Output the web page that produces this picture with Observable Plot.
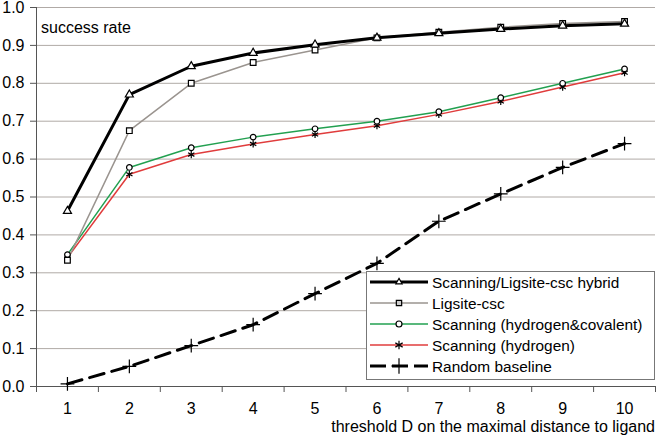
<!DOCTYPE html>
<html>
<head>
<meta charset="utf-8">
<script src="https://cdn.jsdelivr.net/npm/d3@7"></script>
<script src="https://cdn.jsdelivr.net/npm/@observablehq/plot@0.6"></script>
<style>
html,body{margin:0;padding:0;background:#fff;}
#chart{position:relative;width:661px;height:437px;}
</style>
</head>
<body>
<div id="chart"></div>
<script>
const thresholds = [1,2,3,4,5,6,7,8,9,10];
const hybrid    = [0.463,0.770,0.845,0.880,0.902,0.920,0.932,0.943,0.952,0.957];
const ligsite   = [0.333,0.675,0.800,0.855,0.888,0.920,0.935,0.948,0.958,0.963];
const scanHC    = [0.348,0.578,0.630,0.658,0.680,0.700,0.725,0.762,0.800,0.838];
const scanH     = [0.340,0.560,0.612,0.640,0.665,0.688,0.718,0.752,0.790,0.828];
const randomB   = [0.007,0.053,0.108,0.163,0.245,0.325,0.436,0.508,0.578,0.641];
const seriesNames = ["Scanning/Ligsite-csc hybrid","Ligsite-csc","Scanning (hydrogen&covalent)","Scanning (hydrogen)","Random baseline"];
const yTicks = [0,0.1,0.2,0.3,0.4,0.5,0.6,0.7,0.8,0.9,1.0];
const xTitle = "threshold D on the maximal distance to ligand";
const yTitle = "success rate";

const styles = [
  {stroke:"#000", width:3, dash:null, symbol:"triangle", fill:"#fff", r:3},
  {stroke:"#9a948f", width:1.5, dash:null, symbol:"square", fill:"#fff", r:3.2},
  {stroke:"#22a050", width:1.5, dash:null, symbol:"circle", fill:"#fff", r:2.8},
  {stroke:"#e03c3c", width:1.5, dash:null, symbol:"asterisk", fill:"none", r:3.4},
  {stroke:"#000", width:3, dash:"15,8", symbol:"plus", fill:"none", r:4.5}
];
const valuesList = [hybrid, ligsite, scanHC, scanH, randomB];
const rows = valuesList.map(vals => thresholds.map((t,i)=>({x:t,y:vals[i]})));

const marks = [
  Plot.gridY(yTicks,{stroke:"#b0aaa6",strokeOpacity:1,strokeWidth:1}),
  Plot.axisY(yTicks,{tickSize:6,tickFormat:d3.format(".1f"),fontSize:16,tickPadding:6,stroke:"#555",label:null,color:"#000"}),
  Plot.ruleX([0.5],{stroke:"#555"}),
  Plot.ruleY([0],{stroke:"#555"}),
  Plot.axisX(d3.range(0.5,11,1),{tickSize:6,tickFormat:()=>"",stroke:"#555",label:null}),
  Plot.axisX(thresholds,{tickSize:0,tickPadding:16,fontSize:16,label:null,color:"#000"}),
];
[4,3,2,1,0].forEach(k=>{
  const s = styles[k];
  marks.push(Plot.line(rows[k],{x:"x",y:"y",stroke:s.stroke,strokeWidth:s.width,strokeDasharray:s.dash}));
});
[4,3,2,1,0].forEach(k=>{
  const s = styles[k];
  marks.push(Plot.dot(rows[k],{x:"x",y:"y",symbol:()=>s.symbol,r:s.r,fill:s.fill,stroke:"#000",strokeWidth:1.2}));
});

const plot = Plot.plot({
  width:661, height:437,
  marginLeft:36, marginRight:6, marginTop:7, marginBottom:51,
  style:{fontFamily:"'Liberation Sans', Arial, sans-serif", background:"#fff"},
  x:{domain:[0.5,10.5]},
  y:{domain:[0,1]},
  symbol:{type:"identity"},
  marks
});
document.getElementById("chart").appendChild(plot);

const svg = d3.select(plot);
const ff = "'Liberation Sans', Arial, sans-serif";
svg.append("text").attr("x",41).attr("y",33).attr("text-anchor","start").attr("font-size",16).attr("font-family",ff).attr("fill","#000").text(yTitle);
svg.append("text").attr("x",655).attr("y",432).attr("text-anchor","end").attr("font-size",16).attr("font-family",ff).attr("fill","#000").text(xTitle);

const lg = svg.append("g");
lg.append("rect").attr("x",366.5).attr("y",271.5).attr("width",288).attr("height",108).attr("fill","#fff").attr("stroke","#777").attr("stroke-width",1);
const rowY = [282,303,324,345,366];
const symPaths = {
  triangle: d3.symbol(d3.symbolTriangle2, 28)(),
  square: d3.symbol(d3.symbolSquare2, 36)(),
  circle: d3.symbol(d3.symbolCircle, 28)(),
  asterisk: d3.symbol(d3.symbolAsterisk, 50)(),
  plus: d3.symbol(d3.symbolPlus, 80)()
};
seriesNames.forEach((name,i)=>{
  const s = styles[i];
  const y = rowY[i];
  lg.append("line").attr("x1",370).attr("x2",428).attr("y1",y).attr("y2",y)
    .attr("stroke",s.stroke).attr("stroke-width",s.width).attr("stroke-dasharray",s.dash?"16,6":null);
  lg.append("path").attr("d",symPaths[s.symbol]).attr("transform",`translate(399,${y})`)
    .attr("fill", s.fill==="none"?"none":(i===1?"#ccc":"#fff")).attr("stroke","#000").attr("stroke-width",1.2);
  lg.append("text").attr("x",432).attr("y",y+6).attr("text-anchor","start").attr("font-size",15.4).attr("font-family",ff).attr("fill","#000").text(name);
});
</script>
</body>
</html>
